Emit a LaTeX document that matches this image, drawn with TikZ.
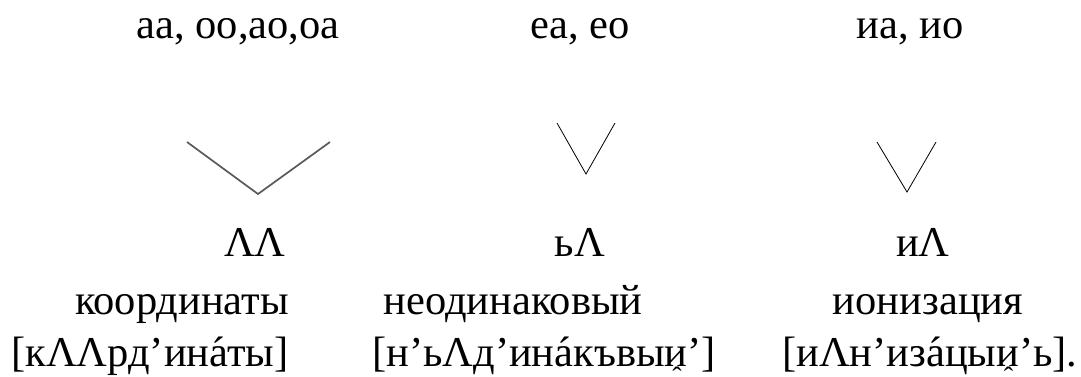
\documentclass[tikz,border=0pt]{standalone}
\usepackage{fontspec}
\setmainfont{Liberation Serif}
\usetikzlibrary{calc}
\newcommand\acc[1]{\accent"00B4 #1}
\newcommand\nsyl{и\llap{\raisebox{-20pt}{\makebox[0.5em]{\fontsize{28}{28}\selectfont ˆ}}}}
\tikzset{
  txt/.style={font=\fontsize{42.5}{48}\selectfont,inner sep=0pt,anchor=base},
  tr/.style={txt,anchor=base west},
  vm/.style={line width=0.8pt,line join=miter},
  vg/.style={line width=1.7pt,draw=black!65},
}

\begin{document}
\begin{tikzpicture}[x=1pt,y=-1pt]
\useasboundingbox (0,0) rectangle (1081,376);
% groups of vowels
\node[txt] (g1) at (238,38) {аа, оо,ао,оа};
\node[txt] (g2) at (580,38) {еа, ео};
\node[txt] (g3) at (910,38) {иа, ио};
% reduction marks
\draw[vg] (187,142) -- (258,194) -- (330,142);
\draw[vm] (557,123) -- (586,174) -- (615,123);
\draw[vm] (877,142) -- (907,192) -- (936,142);
% results
\node[txt] (r1) at (255,256) {ΛΛ};
\node[txt] (r2) at (580,256) {ьΛ};
\node[txt] (r3) at (923,256) {иΛ};
\node[txt] (w1) at (182,314) {координаты};
\node[txt] (w2) at (513,314) {неодинаковый};
\node[txt] (w3) at (928,314) {ионизация};
\node[tr] (t1) at (11,366) {[кΛΛрд’ин\acc{а}ты]};
\node[tr] (t2) at (372,366) {[н’ьΛд’ин\acc{а}къвы\nsyl’]};
\node[tr] (t3) at (782,366) {[иΛн’из\acc{а}цы\nsyl’ь].};
\end{tikzpicture}
\end{document}
